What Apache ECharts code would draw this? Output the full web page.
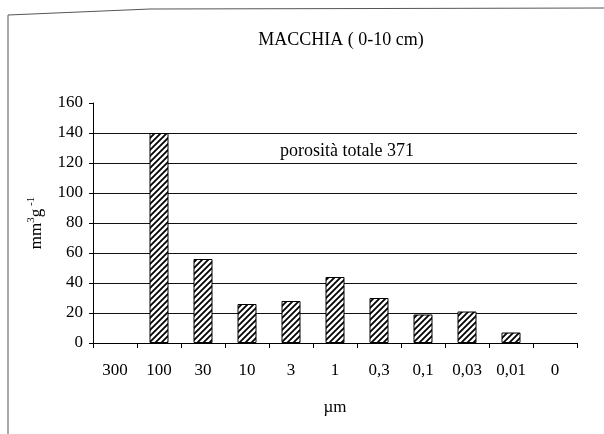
<!DOCTYPE html>
<html>
<head>
<meta charset="utf-8">
<script src="https://cdn.jsdelivr.net/npm/echarts@6/dist/echarts.min.js"></script>
<style>
  html, body { margin: 0; padding: 0; background: #fff; }
  #chart { width: 604px; height: 434px; }
</style>
</head>
<body>
<div id="chart"></div>
<script>
// Pore size classes (µm) and pore volume per class (mm³ g⁻¹)
const poreClasses = ['300', '100', '30', '10', '3', '1', '0,3', '0,1', '0,03', '0,01', '0'];
const poreVolume = [0, 140, 56, 26, 28, 44, 30, 19, 21, 7, 0];
const totalPorosity = 371;

const yTicks = { min: 0, max: 160, step: 20 };

// Diagonal hatch fill for the bars
function hatchPattern() {
  const s = 6;
  const c = document.createElement('canvas');
  c.width = s; c.height = s;
  const g = c.getContext('2d');
  g.fillStyle = '#fff';
  g.fillRect(0, 0, s, s);
  g.strokeStyle = '#000';
  g.lineWidth = 1.8;
  g.beginPath();
  g.moveTo(0, s); g.lineTo(s, 0);
  g.moveTo(-s / 2, s / 2); g.lineTo(s / 2, -s / 2);
  g.moveTo(s / 2, s + s / 2); g.lineTo(s + s / 2, s / 2);
  g.stroke();
  return c;
}

const serif = '"Liberation Serif", "DejaVu Serif", serif';
const chart = echarts.init(document.getElementById('chart'), null, { renderer: 'canvas' });

// no grid line along the top of the value range
const gridColors = [];
for (let v = yTicks.min; v <= yTicks.max; v += yTicks.step) {
  gridColors.push(v === yTicks.max ? 'rgba(0,0,0,0)' : '#111');
}

const pattern = hatchPattern();
const barData = poreVolume.map(v => ({
  value: v,
  itemStyle: v === 0 ? { borderWidth: 0, color: 'rgba(0,0,0,0)' } : undefined
}));

chart.setOption({
  backgroundColor: '#fff',
  animation: false,
  title: {
    text: 'MACCHIA ( 0-10 cm)',
    left: 336, top: 26,
    textAlign: 'center',
    textStyle: { fontFamily: serif, fontSize: 18, fontWeight: 'normal', color: '#000' }
  },
  grid: { left: 93, right: 27, top: 103, bottom: 91 },
  xAxis: {
    type: 'category',
    data: poreClasses,
    name: 'µm',
    nameLocation: 'middle',
    nameGap: 56,
    nameTextStyle: { fontFamily: serif, fontSize: 17, color: '#000' },
    axisLine: { show: true, lineStyle: { color: '#000', width: 1 } },
    axisTick: { show: true, length: 5, lineStyle: { color: '#000' } },
    axisLabel: { fontFamily: serif, fontSize: 17, color: '#000', margin: 19 },
    splitLine: { show: false }
  },
  yAxis: {
    type: 'value',
    min: yTicks.min, max: yTicks.max, interval: yTicks.step,
    name: '{b|mm}{s|3}{b|g}{s| -1}',
    nameLocation: 'middle',
    nameRotate: 90,
    nameGap: 46,
    nameTextStyle: {
      rich: {
        b: { fontFamily: serif, fontSize: 17, color: '#000' },
        s: { fontFamily: serif, fontSize: 11, color: '#000', padding: [0, 0, 10, 0] }
      }
    },
    axisLine: { show: true, lineStyle: { color: '#000', width: 1 } },
    axisTick: { show: true, length: 4, lineStyle: { color: '#000' } },
    axisLabel: { fontFamily: serif, fontSize: 17, color: '#000', margin: 10 },
    splitLine: { show: true, lineStyle: { color: gridColors, width: 1 } }
  },
  series: [{
    type: 'bar',
    data: barData,
    barWidth: 19,
    itemStyle: {
      color: { image: pattern, repeat: 'repeat' },
      borderColor: '#000',
      borderWidth: 1
    }
  }],
  graphic: [{
    type: 'polyline',
    shape: { points: [[8, 434], [8, 15], [150, 9], [604, 8]] },
    style: { stroke: '#555', lineWidth: 1, fill: null },
    silent: true
  }, {
    type: 'text',
    left: 280, top: 142,
    style: {
      text: 'porosità totale ' + totalPorosity,
      font: '18px ' + serif,
      fill: '#000'
    },
    silent: true
  }]
});
</script>
</body>
</html>
